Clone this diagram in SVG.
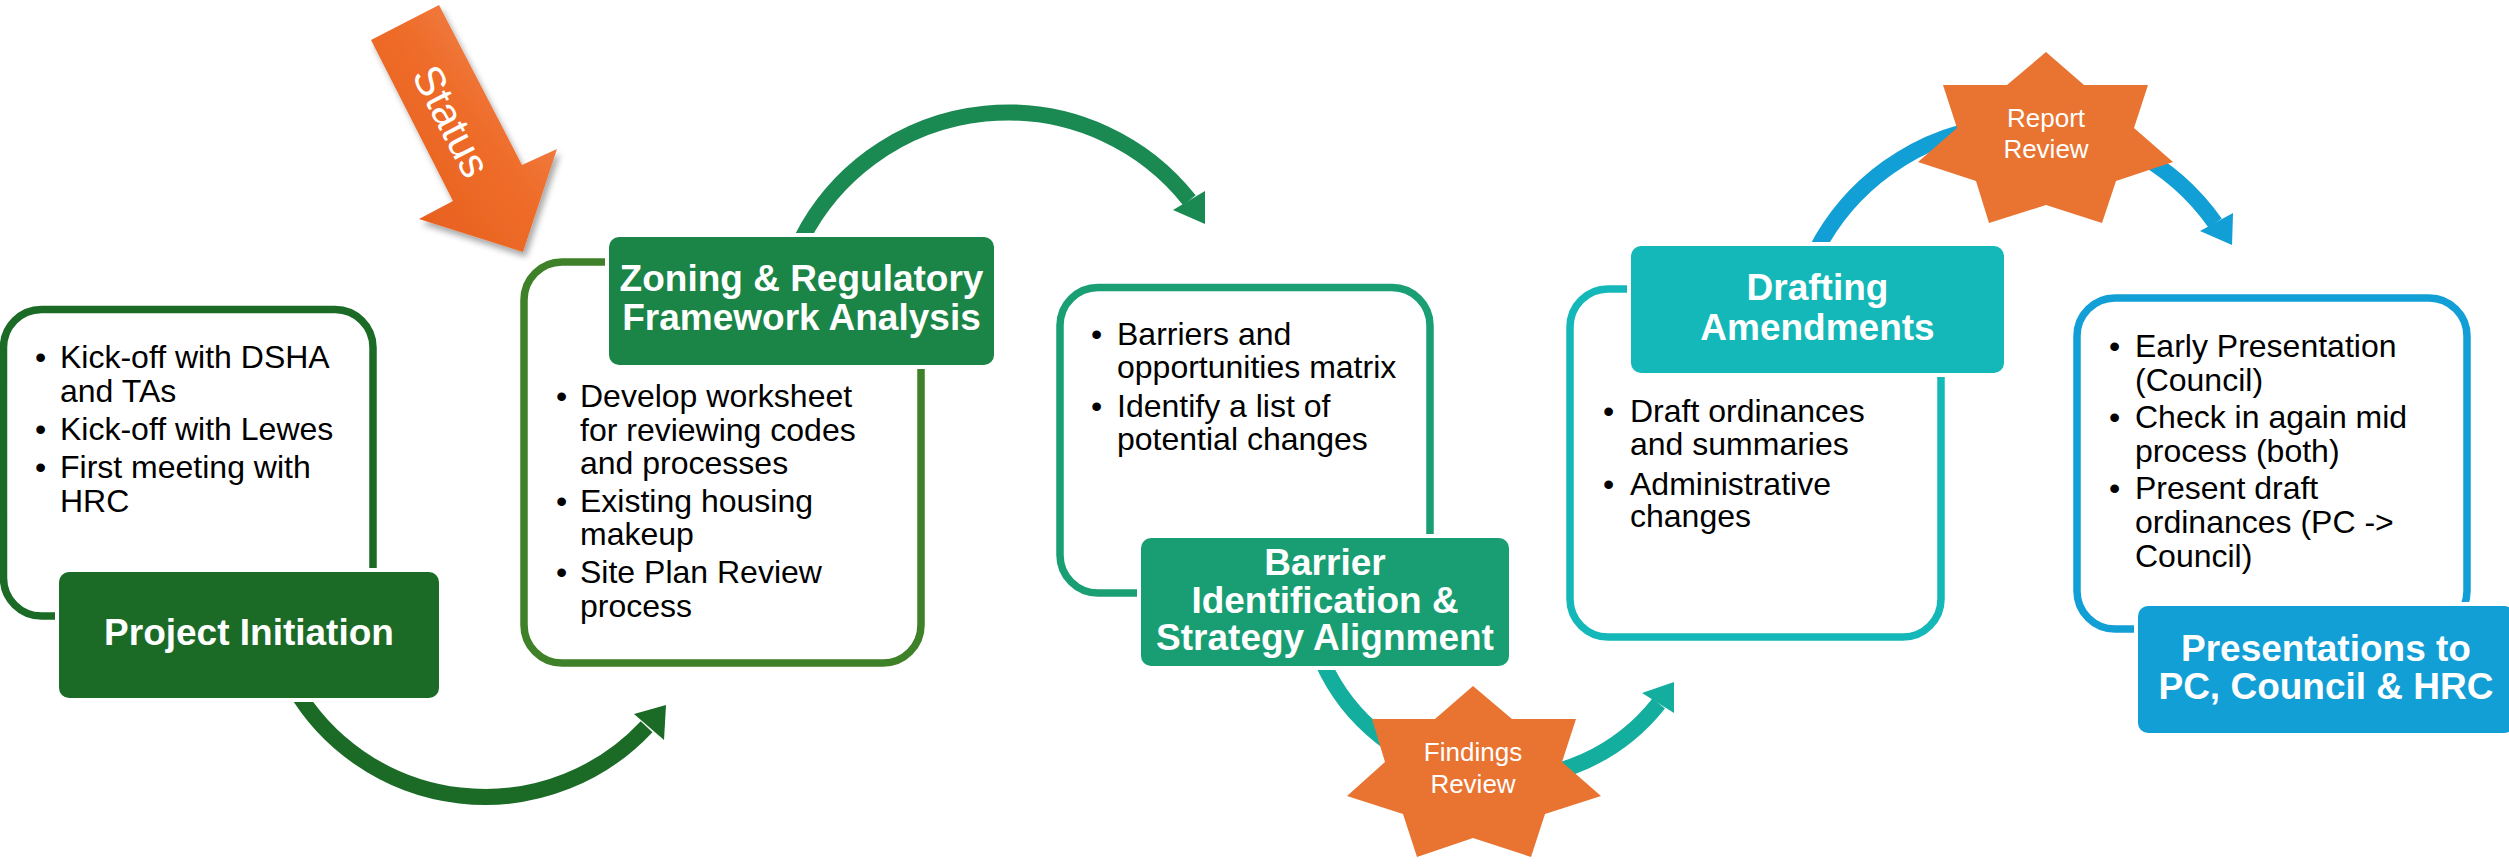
<svg xmlns="http://www.w3.org/2000/svg" width="2509" height="865" viewBox="0 0 2509 865">
<defs>
<style>
.ol{fill:none;stroke-width:7.5}
.lb{stroke:#fff;stroke-width:8;paint-order:stroke}
.bt{font-family:"Liberation Sans",Arial,sans-serif;font-size:32px;fill:#000}
.lt{font-family:"Liberation Sans",Arial,sans-serif;font-size:37px;font-weight:bold;fill:#fff;text-anchor:middle}
.st{font-family:"Liberation Sans",Arial,sans-serif;font-size:26px;fill:#fff;text-anchor:middle}
.arc{fill:none;stroke-width:16}
.star{fill:#e97331}
</style>
<linearGradient id="og" x1="0" y1="1" x2="1" y2="0">
<stop offset="0" stop-color="#e45a18"/>
<stop offset="0.55" stop-color="#ef6d2a"/>
<stop offset="1" stop-color="#f09066"/>
</linearGradient>
<filter id="sh" x="-20%" y="-20%" width="140%" height="140%">
<feDropShadow dx="3" dy="5" stdDeviation="3" flood-color="#000" flood-opacity="0.35"/>
</filter>
</defs>
<rect width="2509" height="865" fill="#fff"/>

<g id="connectors">
<path class="arc" stroke="#1b6b27" d="M 293.6 686.5 A 221 221 0 0 0 646.6 726.7"/>
<polygon fill="#1b6b27" points="666,705 664,740 634,714"/>
<path class="arc" stroke="#1a8a52" d="M 801.7 238.9 A 231.5 231.5 0 0 1 1189.4 200.2"/>
<polygon fill="#1a8a52" points="1205,224 1173,210 1205,191"/>
<path class="arc" stroke="#14ae9f" d="M 1323 663 A 198 198 0 0 0 1658.7 703.5"/>
<polygon fill="#14ae9f" points="1674,682 1674,713 1642,693"/>
<path class="arc" stroke="#129fd6" d="M 1815.5 251.8 A 234 234 0 0 1 2215.2 223.1"/>
<polygon fill="#129fd6" points="2232,245 2200,231 2233,213"/>
</g>

<g id="status">
<polygon fill="url(#og)" filter="url(#sh)" points="371,40 439,5 522,165 557,149 523,252 419,219 453,201"/>
<text transform="translate(452,121) rotate(62.6)" x="0" y="15" font-family="Liberation Sans, Arial, sans-serif" font-size="42" fill="#fff" text-anchor="middle">Status</text>
</g>

<g id="node-project-initiation">
<rect class="ol" stroke="#1b6b27" x="3.5" y="309.5" width="369.5" height="306.5" rx="38"/>
<rect class="lb" fill="#1b6b27" x="59" y="572" width="380" height="126" rx="10"/>
<text class="lt" x="249" y="645">Project Initiation</text>
<text class="bt">
<tspan x="35" y="368">•</tspan><tspan x="60" y="368">Kick-off with DSHA</tspan>
<tspan x="60" y="402">and TAs</tspan>
<tspan x="35" y="440">•</tspan><tspan x="60" y="440">Kick-off with Lewes</tspan>
<tspan x="35" y="478">•</tspan><tspan x="60" y="478">First meeting with</tspan>
<tspan x="60" y="512">HRC</tspan>
</text>
</g>

<g id="node-zoning">
<rect class="ol" stroke="#3f8128" x="524" y="262" width="397" height="401" rx="38"/>
<rect class="lb" fill="#1b8547" x="609" y="237" width="385" height="128" rx="10"/>
<text class="lt"><tspan x="801.5" y="291">Zoning &amp; Regulatory</tspan><tspan x="801.5" y="330">Framework Analysis</tspan></text>
<text class="bt">
<tspan x="556" y="407">•</tspan><tspan x="580" y="407">Develop worksheet</tspan>
<tspan x="580" y="441">for reviewing codes</tspan>
<tspan x="580" y="474">and processes</tspan>
<tspan x="556" y="512">•</tspan><tspan x="580" y="512">Existing housing</tspan>
<tspan x="580" y="545">makeup</tspan>
<tspan x="556" y="583">•</tspan><tspan x="580" y="583">Site Plan Review</tspan>
<tspan x="580" y="617">process</tspan>
</text>
</g>

<g id="node-barrier">
<rect class="ol" stroke="#1a9e74" x="1060" y="287.5" width="370" height="305.5" rx="38"/>
<rect class="lb" fill="#189e72" x="1141" y="538" width="368" height="128" rx="10"/>
<text class="lt"><tspan x="1325" y="575">Barrier</tspan><tspan x="1325" y="613">Identification &amp;</tspan><tspan x="1325" y="650">Strategy Alignment</tspan></text>
<text class="bt">
<tspan x="1091" y="345">•</tspan><tspan x="1117" y="345">Barriers and</tspan>
<tspan x="1117" y="378">opportunities matrix</tspan>
<tspan x="1091" y="417">•</tspan><tspan x="1117" y="417">Identify a list of</tspan>
<tspan x="1117" y="450">potential changes</tspan>
</text>
</g>

<g id="node-drafting">
<rect class="ol" stroke="#15b8b8" x="1570" y="289" width="371" height="348" rx="38"/>
<rect class="lb" fill="#15b8b8" x="1631" y="246" width="373" height="127" rx="10"/>
<text class="lt"><tspan x="1817.5" y="300">Drafting</tspan><tspan x="1817.5" y="340">Amendments</tspan></text>
<text class="bt">
<tspan x="1603" y="422">•</tspan><tspan x="1630" y="422">Draft ordinances</tspan>
<tspan x="1630" y="455">and summaries</tspan>
<tspan x="1603" y="495">•</tspan><tspan x="1630" y="495">Administrative</tspan>
<tspan x="1630" y="527">changes</tspan>
</text>
</g>

<g id="node-presentations">
<rect class="ol" stroke="#129fd6" x="2077" y="298" width="390" height="331" rx="38"/>
<rect class="lb" fill="#129fd6" x="2138" y="606" width="376" height="127" rx="10"/>
<text class="lt"><tspan x="2326" y="661">Presentations to</tspan><tspan x="2326" y="699">PC, Council &amp; HRC</tspan></text>
<text class="bt">
<tspan x="2109" y="357">•</tspan><tspan x="2135" y="357">Early Presentation</tspan>
<tspan x="2135" y="391">(Council)</tspan>
<tspan x="2109" y="428">•</tspan><tspan x="2135" y="428">Check in again mid</tspan>
<tspan x="2135" y="462">process (both)</tspan>
<tspan x="2109" y="499">•</tspan><tspan x="2135" y="499">Present draft</tspan>
<tspan x="2135" y="533">ordinances (PC -&gt;</tspan>
<tspan x="2135" y="567">Council)</tspan>
</text>
</g>

<g id="star-findings">
<polygon class="star" points="1473,686 1512,719 1576,719 1562,762 1601,796 1545,814 1531,857 1473,838 1417,857 1403,814 1347,796 1385,762 1372,719 1435,719"/>
<text class="st"><tspan x="1473" y="761">Findings</tspan><tspan x="1473" y="793">Review</tspan></text>
</g>

<g id="star-report">
<polygon class="star" points="2046,52 2084,85 2148,85 2134,128 2173,162 2116,181 2102,223 2046,205 1989,223 1976,181 1918,162 1957,128 1943,85 2007,85"/>
<text class="st"><tspan x="2046" y="127">Report</tspan><tspan x="2046" y="158">Review</tspan></text>
</g>
</svg>
